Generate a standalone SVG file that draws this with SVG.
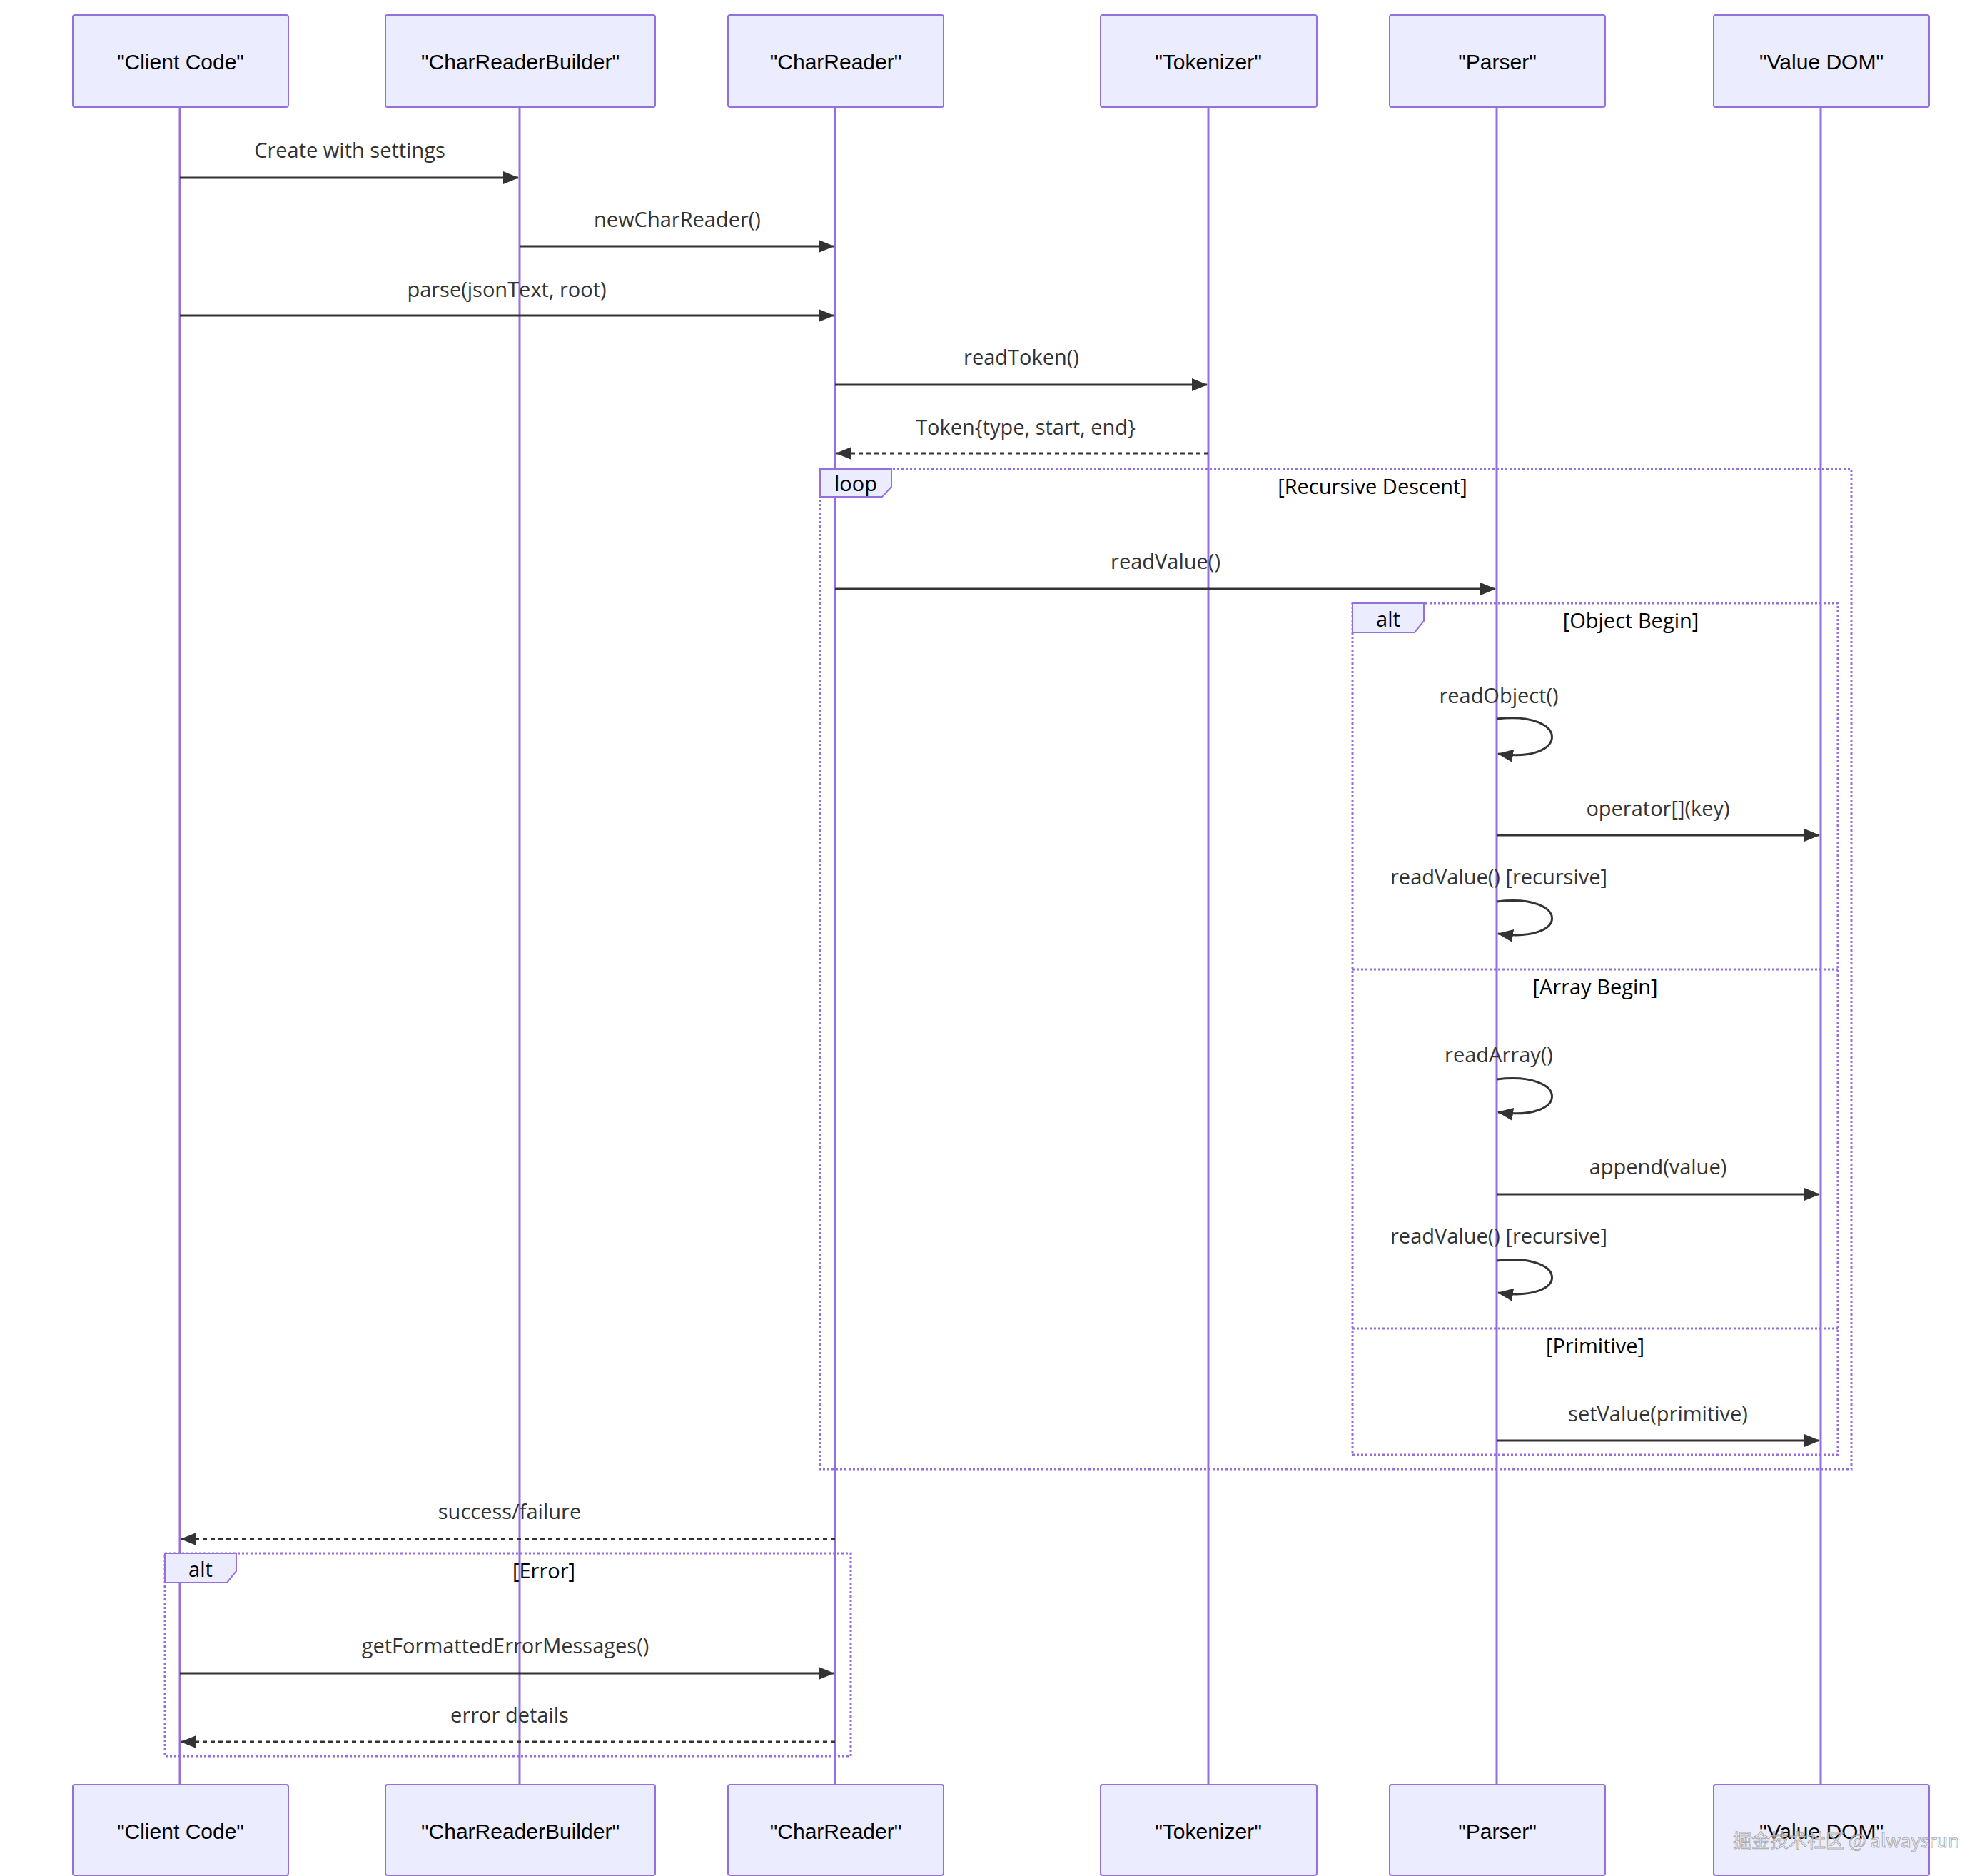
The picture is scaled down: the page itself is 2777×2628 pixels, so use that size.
<svg xmlns="http://www.w3.org/2000/svg" width="2777" height="2628" viewBox="0 0 2777 2628">
<style>
.actor{fill:#ECECFF;stroke:#9370DB;stroke-width:2}
.at{font-family:"Liberation Sans",Arial,sans-serif;font-size:30px;fill:#000;text-anchor:middle;dominant-baseline:central}
.life{stroke:#9370DB;stroke-width:3}
.msg{stroke:#333;stroke-width:3;fill:none}
.dash{stroke-dasharray:6,5}
.mt{font-family:"Open Sans","DejaVu Sans",sans-serif;font-size:29px;fill:#333;text-anchor:middle}
.frame{fill:none;stroke:#9370DB;stroke-width:3;stroke-dasharray:3,3}
.tag{fill:#ECECFF;stroke:#9370DB;stroke-width:2}
.lt{font-family:"Open Sans","DejaVu Sans",sans-serif;font-size:29px;fill:#000;text-anchor:middle}
</style>
<defs>
<marker id="ah" viewBox="0 0 22 18" refX="21" refY="9" markerWidth="22" markerHeight="18" markerUnits="userSpaceOnUse" orient="auto"><path d="M0,0 L22,9 L0,18 z" fill="#333"/></marker>
</defs>
<rect width="2777" height="2628" fill="#fff"/>
<g id="lifelines">
<line class="life" x1="252" y1="150" x2="252" y2="2500"/>
<line class="life" x1="728" y1="150" x2="728" y2="2500"/>
<line class="life" x1="1170" y1="150" x2="1170" y2="2500"/>
<line class="life" x1="1693" y1="150" x2="1693" y2="2500"/>
<line class="life" x1="2097" y1="150" x2="2097" y2="2500"/>
<line class="life" x1="2551" y1="150" x2="2551" y2="2500"/>
</g>
<g id="frames">
<rect class="frame" x="1149" y="657" width="1445" height="1401"/>
<path class="tag" d="M1149,657 H1249 V682 L1236,696 H1149 Z"/>
<text class="lt" x="1199" y="688">loop</text>
<text class="lt" x="1923" y="692">[Recursive Descent]</text>
<rect class="frame" x="1895" y="845" width="680" height="1193"/>
<path class="tag" d="M1895,845 H1995 V870 L1982,886 H1895 Z"/>
<text class="lt" x="1945" y="878">alt</text>
<text class="lt" x="2285" y="880">[Object Begin]</text>
<line class="frame" x1="1895" y1="1358" x2="2575" y2="1358"/>
<text class="lt" x="2235" y="1393">[Array Begin]</text>
<line class="frame" x1="1895" y1="1861" x2="2575" y2="1861"/>
<text class="lt" x="2235" y="1896">[Primitive]</text>
<rect class="frame" x="231" y="2176" width="961" height="284"/>
<path class="tag" d="M231,2176 H331 V2201 L318,2217 H231 Z"/>
<text class="lt" x="281" y="2209">alt</text>
<text class="lt" x="762" y="2211">[Error]</text>
</g>
<g id="connectors">
<line class="msg" x1="252" y1="249" x2="726" y2="249" marker-end="url(#ah)"/>
<text class="mt" x="490" y="221">Create with settings</text>
<line class="msg" x1="728" y1="345" x2="1168" y2="345" marker-end="url(#ah)"/>
<text class="mt" x="949" y="318">newCharReader()</text>
<line class="msg" x1="252" y1="442" x2="1168" y2="442" marker-end="url(#ah)"/>
<text class="mt" x="710" y="416">parse(jsonText, root)</text>
<line class="msg" x1="1170" y1="539" x2="1691" y2="539" marker-end="url(#ah)"/>
<text class="mt" x="1431" y="511">readToken()</text>
<line class="msg dash" x1="1693" y1="635" x2="1172" y2="635" marker-end="url(#ah)"/>
<text class="mt" x="1437" y="609">Token{type, start, end}</text>
<line class="msg" x1="1170" y1="825" x2="2095" y2="825" marker-end="url(#ah)"/>
<text class="mt" x="1633" y="797">readValue()</text>
<path class="msg" d="M2097,1007 C2200,995 2200,1070 2099,1056" marker-end="url(#ah)"/>
<text class="mt" x="2100" y="985">readObject()</text>
<line class="msg" x1="2097" y1="1170" x2="2549" y2="1170" marker-end="url(#ah)"/>
<text class="mt" x="2323" y="1143">operator[](key)</text>
<path class="msg" d="M2097,1263 C2200,1251 2200,1322 2099,1308" marker-end="url(#ah)"/>
<text class="mt" x="2100" y="1239">readValue() [recursive]</text>
<path class="msg" d="M2097,1512 C2200,1500 2200,1572 2099,1558" marker-end="url(#ah)"/>
<text class="mt" x="2100" y="1488">readArray()</text>
<line class="msg" x1="2097" y1="1673" x2="2549" y2="1673" marker-end="url(#ah)"/>
<text class="mt" x="2323" y="1645">append(value)</text>
<path class="msg" d="M2097,1766 C2200,1754 2200,1825 2099,1811" marker-end="url(#ah)"/>
<text class="mt" x="2100" y="1742">readValue() [recursive]</text>
<line class="msg" x1="2097" y1="2018" x2="2549" y2="2018" marker-end="url(#ah)"/>
<text class="mt" x="2323" y="1991">setValue(primitive)</text>
<line class="msg dash" x1="1170" y1="2156" x2="254" y2="2156" marker-end="url(#ah)"/>
<text class="mt" x="714" y="2128">success/failure</text>
<line class="msg" x1="252" y1="2344" x2="1168" y2="2344" marker-end="url(#ah)"/>
<text class="mt" x="708" y="2316">getFormattedErrorMessages()</text>
<line class="msg dash" x1="1170" y1="2440" x2="254" y2="2440" marker-end="url(#ah)"/>
<text class="mt" x="714" y="2413">error details</text>
</g>
<g id="client-code"><rect class="actor" x="102" y="21" width="302" height="129" rx="3"/><text class="at" x="253" y="86">"Client Code"</text>
<rect class="actor" x="102" y="2500" width="302" height="127" rx="3"/><text class="at" x="253" y="2565">"Client Code"</text></g>
<g id="charreaderbuilder"><rect class="actor" x="540" y="21" width="378" height="129" rx="3"/><text class="at" x="729" y="86">"CharReaderBuilder"</text>
<rect class="actor" x="540" y="2500" width="378" height="127" rx="3"/><text class="at" x="729" y="2565">"CharReaderBuilder"</text></g>
<g id="charreader"><rect class="actor" x="1020" y="21" width="302" height="129" rx="3"/><text class="at" x="1171" y="86">"CharReader"</text>
<rect class="actor" x="1020" y="2500" width="302" height="127" rx="3"/><text class="at" x="1171" y="2565">"CharReader"</text></g>
<g id="tokenizer"><rect class="actor" x="1542" y="21" width="303" height="129" rx="3"/><text class="at" x="1693" y="86">"Tokenizer"</text>
<rect class="actor" x="1542" y="2500" width="303" height="127" rx="3"/><text class="at" x="1693" y="2565">"Tokenizer"</text></g>
<g id="parser"><rect class="actor" x="1947" y="21" width="302" height="129" rx="3"/><text class="at" x="2098" y="86">"Parser"</text>
<rect class="actor" x="1947" y="2500" width="302" height="127" rx="3"/><text class="at" x="2098" y="2565">"Parser"</text></g>
<g id="value-dom"><rect class="actor" x="2401" y="21" width="302" height="129" rx="3"/><text class="at" x="2552" y="86">"Value DOM"</text>
<rect class="actor" x="2401" y="2500" width="302" height="127" rx="3"/><text class="at" x="2552" y="2565">"Value DOM"</text></g>
<text x="2745" y="2588" font-family="'Noto Sans CJK SC',sans-serif" font-size="26" fill="#fff" stroke="#999" stroke-width="1" text-anchor="end" opacity="0.8">掘金技术社区 @ alwaysrun</text>
</svg>
